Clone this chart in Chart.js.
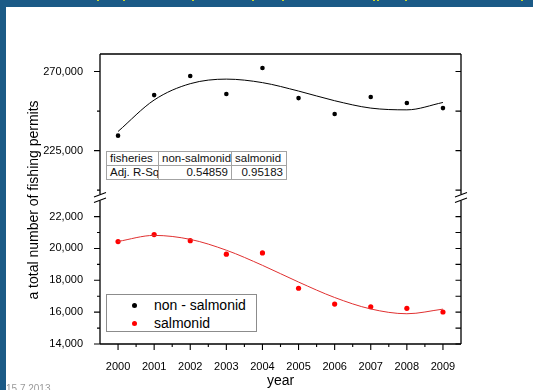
<!DOCTYPE html>
<html>
<head>
<meta charset="utf-8">
<title>Fishing permits 2000-2009</title>
<script src="https://cdn.jsdelivr.net/npm/chart.js@4.4.1/dist/chart.umd.min.js"></script>
<style>
  html, body { margin: 0; padding: 0; background: #fff; }
  body { width: 533px; height: 390px; position: relative; overflow: hidden;
         font-family: "Liberation Sans", Arial, sans-serif; }
  #band-top { position: absolute; left: 0; top: 0; width: 533px; height: 7px; background: #1b5a86; }
  #band-left { position: absolute; left: 0; top: 0; width: 6px; height: 390px; background: #1b5a86; }
  .spark { position: absolute; top: 0; width: 2px; height: 1px; background: #c9d62a; }
  #plot { position: absolute; left: 0; top: 0; }
  #ytitle { position: absolute; left: 33px; top: 200px; transform: translate(-50%, -50%) rotate(-90deg);
            white-space: nowrap; font-size: 14px; color: #000; }
  #stamp { position: absolute; left: 6px; top: 383px; font-size: 10px; color: #9a9a9a; white-space: nowrap; }
  #fit-table { position: absolute; left: 106px; top: 151px; width: 180px; border-collapse: collapse;
               font-size: 11.5px; color: #111; background: #fff; table-layout: fixed; }
  #fit-table td { border: 1px solid #a3a3a3; padding: 0 3px; height: 13px; line-height: 13px;
                  white-space: nowrap; overflow: hidden; }
  #fit-table td.num { text-align: right; }
  #legend { position: absolute; left: 106px; top: 294px; width: 151px; height: 38px;
            border: 1px solid #8c8c8c; box-sizing: border-box; background: #fff; }
  .lg-row { position: absolute; left: 0; height: 18px; line-height: 18px; font-size: 14px; color: #000; }
  .lg-dot { position: absolute; left: 25px; top: 6.5px; width: 5px; height: 5px; border-radius: 50%; }
  .lg-text { position: absolute; left: 47px; white-space: nowrap; }
</style>
</head>
<body>
<div id="band-top"></div>
<div id="band-left"></div>
<canvas id="plot" width="533" height="390"></canvas>
<div id="ytitle">a total number of fishing permits</div>
<div id="stamp">15.7.2013</div>
<table id="fit-table">
  <colgroup><col style="width:52px"><col style="width:73px"><col style="width:55px"></colgroup>
  <tbody></tbody>
</table>
<div id="legend"></div>
<script>
// Yearly permit counts
const years = [2000, 2001, 2002, 2003, 2004, 2005, 2006, 2007, 2008, 2009];
const nonSalmonidPermits = [233500, 256600, 267500, 257200, 272000, 254900, 245800, 255500, 252100, 249200];
const salmonidPermits = [20430, 20870, 20490, 19640, 19720, 17500, 16510, 16340, 16240, 16010];

// Polynomial trend values at each year
const nonSalmonidTrend = [235900, 253800, 263100, 265700, 263700, 258900, 253400, 249200, 248200, 252400];
const salmonidTrend = [20440, 20820, 20570, 19890, 18940, 17890, 16920, 16200, 15900, 16190];

// Axis ticks (upper and lower segment of the broken y axis)
const highTicks = [225000, 270000];
const highMinorTicks = [202500, 247500];
const lowTicks = [14000, 16000, 18000, 20000, 22000];
const lowMinorTicks = [15000, 17000, 19000, 21000];

// Fit statistics table
const tableHeader = ['fisheries', 'non-salmonid', 'salmonid'];
const tableRowLabel = 'Adj. R-Sq';
const adjRSquared = [0.54859, 0.95183];

// Legend entries
const seriesLabels = ['non - salmonid', 'salmonid'];
const seriesColors = ['#000000', '#ff0000'];

// ---- HTML pieces: statistics table, legend, slide decorations ----
(function () {
  const tbody = document.querySelector('#fit-table tbody');
  const head = document.createElement('tr');
  tableHeader.forEach(t => { const td = document.createElement('td'); td.textContent = t; head.appendChild(td); });
  tbody.appendChild(head);
  const row = document.createElement('tr');
  const lab = document.createElement('td'); lab.textContent = tableRowLabel; row.appendChild(lab);
  adjRSquared.forEach(v => { const td = document.createElement('td'); td.className = 'num'; td.textContent = v.toFixed(5); row.appendChild(td); });
  tbody.appendChild(row);

  const legend = document.getElementById('legend');
  seriesLabels.forEach((name, i) => {
    const r = document.createElement('div');
    r.className = 'lg-row';
    r.style.top = (1 + i * 18) + 'px';
    r.style.width = '100%';
    const d = document.createElement('span'); d.className = 'lg-dot'; d.style.background = seriesColors[i];
    const t = document.createElement('span'); t.className = 'lg-text'; t.textContent = name;
    r.appendChild(d); r.appendChild(t);
    legend.appendChild(r);
  });

  [97, 123, 192, 252, 282, 373, 377, 405, 521].forEach(x => {
    const s = document.createElement('div'); s.className = 'spark'; s.style.left = x + 'px';
    document.body.appendChild(s);
  });
})();

// ---- Frame, broken-axis marks and tick marks ----
const brokenFrame = {
  id: 'brokenFrame',
  afterDraw(chart) {
    const ctx = chart.ctx;
    const { left, right, top, bottom } = chart.chartArea;
    const hi = chart.scales.yHigh, lo = chart.scales.yLow, x = chart.scales.x;
    const yb = hi.bottom;
    const gap = 3;
    ctx.save();
    ctx.strokeStyle = '#000';
    ctx.lineWidth = 1.3;
    ctx.beginPath();
    // top and bottom edges
    ctx.moveTo(left, top); ctx.lineTo(right, top);
    ctx.moveTo(left, bottom); ctx.lineTo(right, bottom);
    // vertical axes, interrupted at the break
    [left, right].forEach(ax => {
      ctx.moveTo(ax, top); ctx.lineTo(ax, yb - gap);
      ctx.moveTo(ax, yb + gap); ctx.lineTo(ax, bottom);
    });
    ctx.stroke();

    // break slashes
    ctx.lineWidth = 1.1;
    ctx.beginPath();
    [left, right].forEach(ax => {
      ctx.moveTo(ax - 6, yb - 0.5); ctx.lineTo(ax + 6, yb - 5);
      ctx.moveTo(ax - 6, yb + 5); ctx.lineTo(ax + 6, yb + 0.5);
    });
    ctx.stroke();

    // y tick marks: outward on the left, inward on the right
    ctx.lineWidth = 1.1;
    ctx.beginPath();
    const yTick = (scale, v, len) => {
      const p = scale.getPixelForValue(v);
      ctx.moveTo(left - len, p); ctx.lineTo(left, p);
      ctx.moveTo(right - 5.5, p); ctx.lineTo(right, p);
    };
    highTicks.forEach(v => yTick(hi, v, 6));
    highMinorTicks.forEach(v => yTick(hi, v, 3));
    lowTicks.forEach(v => yTick(lo, v, 6));
    lowMinorTicks.forEach(v => yTick(lo, v, 3));

    // x tick marks: years and half years
    years.forEach(yr => {
      const p = x.getPixelForValue(yr);
      ctx.moveTo(p, bottom); ctx.lineTo(p, bottom + 6);
      const h = x.getPixelForValue(yr + 0.5);
      if (yr + 0.5 < x.max) { ctx.moveTo(h, bottom); ctx.lineTo(h, bottom + 3); }
    });
    ctx.stroke();
    ctx.restore();
  }
};

Chart.defaults.font.family = '"Liberation Sans", Arial, sans-serif';
Chart.defaults.color = '#000';

const toPoints = vals => years.map((yr, i) => ({ x: yr, y: vals[i] }));
const thousands = v => Number(v).toLocaleString('en-US');

new Chart(document.getElementById('plot'), {
  type: 'line',
  data: {
    datasets: [
      { label: 'non - salmonid fit', data: toPoints(nonSalmonidTrend), yAxisID: 'yHigh',
        borderColor: '#000', borderWidth: 1, pointRadius: 0, cubicInterpolationMode: 'monotone', fill: false },
      { label: seriesLabels[0], data: toPoints(nonSalmonidPermits), yAxisID: 'yHigh', showLine: false,
        pointRadius: 2.3, pointBackgroundColor: seriesColors[0], pointBorderWidth: 0 },
      { label: 'salmonid fit', data: toPoints(salmonidTrend), yAxisID: 'yLow',
        borderColor: '#e03030', borderWidth: 1, pointRadius: 0, cubicInterpolationMode: 'monotone', fill: false },
      { label: seriesLabels[1], data: toPoints(salmonidPermits), yAxisID: 'yLow', showLine: false,
        pointRadius: 2.6, pointBackgroundColor: seriesColors[1], pointBorderWidth: 0 }
    ]
  },
  options: {
    responsive: false,
    animation: false,
    events: [],
    layout: { padding: { top: 54, right: 72, left: 0, bottom: 0 } },
    plugins: { legend: { display: false }, tooltip: { enabled: false } },
    scales: {
      x: {
        type: 'linear', min: 1999.5, max: 2009.5,
        afterBuildTicks: s => { s.ticks = years.map(v => ({ value: v })); },
        ticks: { callback: v => String(v), padding: 8, font: { size: 11 }, maxRotation: 0, autoSkip: false },
        grid: { display: false }, border: { display: false },
        title: { display: true, text: 'year', font: { size: 14 }, padding: { top: 0, bottom: 0 } },
        afterFit: s => { s.height = 46; }
      },
      yLow: {
        type: 'linear', position: 'left', stack: 'permits', stackWeight: 146.5,
        min: 14000, max: 23200,
        afterBuildTicks: s => { s.ticks = lowTicks.map(v => ({ value: v })); },
        ticks: { callback: thousands, padding: 9, font: { size: 11 } },
        grid: { display: false }, border: { display: false },
        afterFit: s => { s.width = 100; }
      },
      yHigh: {
        type: 'linear', position: 'left', stack: 'permits', stackWeight: 143.5,
        min: 198300, max: 280000,
        afterBuildTicks: s => { s.ticks = highTicks.map(v => ({ value: v })); },
        ticks: { callback: thousands, padding: 9, font: { size: 11 } },
        grid: { display: false }, border: { display: false },
        afterFit: s => { s.width = 100; }
      }
    }
  },
  plugins: [brokenFrame]
});
</script>
</body>
</html>
